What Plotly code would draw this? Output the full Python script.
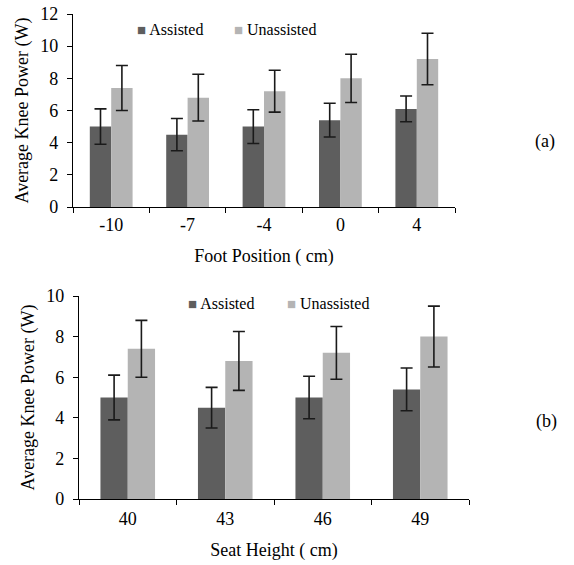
import plotly.graph_objects as go

# ---- data ----
foot_positions = ["-10", "-7", "-4", "0", "4"]
foot_assisted = [5.0, 4.5, 5.0, 5.4, 6.1]
foot_assisted_err = [1.1, 1.0, 1.05, 1.05, 0.8]
foot_unassisted = [7.4, 6.8, 7.2, 8.0, 9.2]
foot_unassisted_err = [1.4, 1.45, 1.3, 1.5, 1.6]

seat_heights = ["40", "43", "46", "49"]
seat_assisted = [5.0, 4.5, 5.0, 5.4]
seat_assisted_err = [1.1, 1.0, 1.05, 1.05]
seat_unassisted = [7.4, 6.8, 7.2, 8.0]
seat_unassisted_err = [1.4, 1.45, 1.3, 1.5]

series_names = ["Assisted", "Unassisted"]

DARK = "#5e5e5e"
LIGHT = "#b4b4b4"
FONT = "Liberation Serif, Times New Roman, serif"
ERR = dict(type="data", visible=True, color="#1a1a1a", thickness=1.6, width=6)

fig = go.Figure()

def add(x, y, err, name, color, xa, ya):
    fig.add_trace(go.Bar(
        x=x, y=y, name=name, marker=dict(color=color, line=dict(width=0)),
        error_y=dict(array=err, **ERR), xaxis=xa, yaxis=ya,
        showlegend=False, offsetgroup=name))

add(foot_positions, foot_assisted, foot_assisted_err, series_names[0], DARK, "x", "y")
add(foot_positions, foot_unassisted, foot_unassisted_err, series_names[1], LIGHT, "x", "y")
add(seat_heights, seat_assisted, seat_assisted_err, series_names[0], DARK, "x2", "y2")
add(seat_heights, seat_unassisted, seat_unassisted_err, series_names[1], LIGHT, "x2", "y2")

# legend entries: coloured square glyph + name (legend-only, no data)
for lg in ["legend", "legend2"]:
    for name, color in zip(series_names + [""], [DARK, LIGHT, "white"]):
        label = (f'<span style="color:{color};font-size:15px">■</span> {name}') if name else " "
        fig.add_trace(go.Scatter(
            x=[None], y=[None], mode="markers",
            marker=dict(size=1, color="rgba(0,0,0,0)"),
            name=label, legend=lg, showlegend=True, hoverinfo="skip"))

W, H = 574, 565
axis_common = dict(showline=True, linecolor="black", linewidth=1.3, ticks="outside",
                   ticklen=5, tickcolor="black", tickwidth=1.3, showgrid=False,
                   zeroline=False, automargin=False,
                   tickfont=dict(family=FONT, size=18, color="black"))

fig.update_layout(
    width=W, height=H, margin=dict(l=0, r=0, t=0, b=0, autoexpand=False),
    paper_bgcolor="white", plot_bgcolor="white",
    barmode="group", bargap=0.44, bargroupgap=0,
    font=dict(family=FONT, size=18, color="black"),
    xaxis=dict(domain=[73 / W, 455 / W], anchor="y", tickson="boundaries",
               ticklabelstandoff=1,
               title=dict(text="Foot Position ( cm)", font=dict(family=FONT, size=18), standoff=15),
               **axis_common),
    yaxis=dict(domain=[1 - 207 / H, 1 - 14 / H], anchor="x", range=[0, 12], dtick=2,
               ticklabelstandoff=5,
               title=dict(text="Average Knee Power (W)", font=dict(family=FONT, size=18), standoff=6),
               **axis_common),
    xaxis2=dict(domain=[79 / W, 469 / W], anchor="y2", tickson="boundaries",
                ticklabelstandoff=3,
                title=dict(text="Seat Height ( cm)", font=dict(family=FONT, size=18), standoff=15),
                **axis_common),
    yaxis2=dict(domain=[1 - 499 / H, 1 - 296 / H], anchor="x2", range=[0, 10], dtick=2,
                ticklabelstandoff=5,
                title=dict(text="Average Knee Power (W)", font=dict(family=FONT, size=18), standoff=6),
                **axis_common),
    legend=dict(orientation="h", x=97 / W, y=1 - 29 / H, xanchor="left", yanchor="middle",
                font=dict(family=FONT, size=16), entrywidth=52, bgcolor="rgba(0,0,0,0)",
                traceorder="normal"),
    legend2=dict(orientation="h", x=148 / W, y=1 - 303 / H, xanchor="left", yanchor="middle",
                 font=dict(family=FONT, size=16), entrywidth=54, bgcolor="rgba(0,0,0,0)",
                 traceorder="normal"),
    annotations=[
        dict(text="(a)", x=545 / W, y=1 - 141 / H, xref="paper", yref="paper",
             xanchor="center", yanchor="middle",
             showarrow=False, font=dict(family=FONT, size=18)),
        dict(text="(b)", x=546 / W, y=1 - 421 / H, xref="paper", yref="paper",
             xanchor="center", yanchor="middle",
             showarrow=False, font=dict(family=FONT, size=18)),
    ],
)

fig.write_html("out.html", config={"displayModeBar": False},
               post_script="document.body.style.margin='0';document.body.style.padding='0';")
